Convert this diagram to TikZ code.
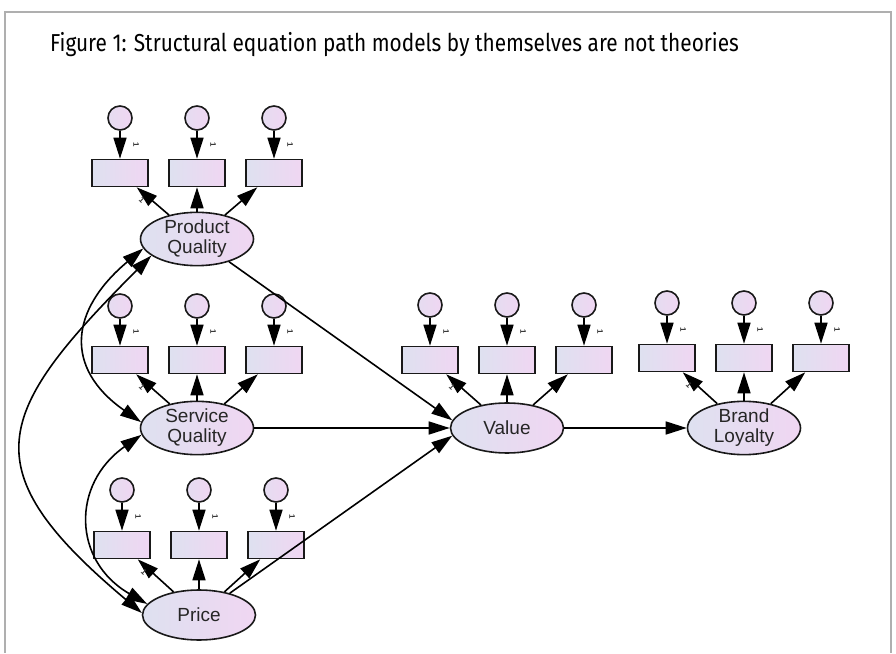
\documentclass[tikz,border=0pt]{standalone}
\usepackage{fontspec}
\setmainfont{Liberation Sans}
\newfontfamily\capfont[FakeStretch=0.85]{Fira Sans}
\usetikzlibrary{arrows.meta,shapes}

\definecolor{shadeL}{RGB}{222,225,240}
\definecolor{shadeR}{RGB}{240,214,242}
\definecolor{rimgray}{RGB}{175,175,175}

\begin{document}
\begin{tikzpicture}[x=1pt, y=1pt, line width=1.6pt, >={Triangle[length=21pt,width=13pt]}]
    \tikzstyle{latent}=[ellipse, draw=black!90, left color=shadeL, right color=shadeR, minimum width=113pt, minimum height=50pt, inner sep=0pt, align=center, font=\fontsize{19}{20}\selectfont, text=black!85]
    \tikzstyle{indic}=[rectangle, draw=black!90, left color=shadeL, right color=shadeR, minimum width=56pt, minimum height=27pt, inner sep=0pt]
    \tikzstyle{resid}=[circle, draw=black!90, left color=shadeL!60!shadeR, right color=shadeR, minimum size=24pt, inner sep=0pt]
    \tikzstyle{one}=[font=\bfseries\fontsize{8}{8}\selectfont, text=black!80, inner sep=0pt]
    \useasboundingbox (0,0) rectangle (896,653);
    \draw[rimgray, line width=1.5pt] (5,0) -- (5,641) -- (891,641) -- (891,0);
    \node[anchor=west, font=\capfont\fontsize{24.5}{28}\selectfont] (title) at (46,608) {Figure 1: Structural equation path models by themselves are not theories};

    % latent variables with their three indicators each
    \foreach \g/\x/\ey/\by/\cy/\txt in {pq/197/414/480/535/{Product\\Quality}, sq/197/225/293/347/{Service\\Quality}, pr/199/38/108/163/Price, val/507/225/293/348/Value, bl/744/225/295/350/{Brand\\Loyalty}}
    {
      \node[latent] (\g) at (\x,\ey) {\txt};
      \foreach \i/\dx in {1/-77,2/0,3/77}
      {
        \node[indic] (\g b\i) at (\x+\dx,\by) {};
        \node[resid] (\g e\i) at (\x+\dx,\cy) {};
        \draw[->] (\g e\i) -- (\g b\i);
        \draw[->] (\g) -- (\g b\i);
        \node[one, rotate=-90] at (\x+\dx+16,\by+28) {1};
      }
      \node[one, rotate=-45] at (\x-55,\by-27) {1};
    }

    % structural paths
    \draw[->] (pq) -- (val.172);
    \draw[->] (sq) -- (val.west);
    \draw[->] (pr) -- (val.188);
    \draw[->] (val) -- (bl);

    % covariances between the exogenous factors
    \draw[<->] (pq.190) to[out=220, in=145, looseness=1.4] (sq.174);
    \draw[<->] (sq.187) to[out=215, in=150, looseness=1.3] (pr.168);
    \draw[<->] (pq.200) to[out=225, in=140, looseness=1.6] (pr.178);
\end{tikzpicture}
\end{document}
